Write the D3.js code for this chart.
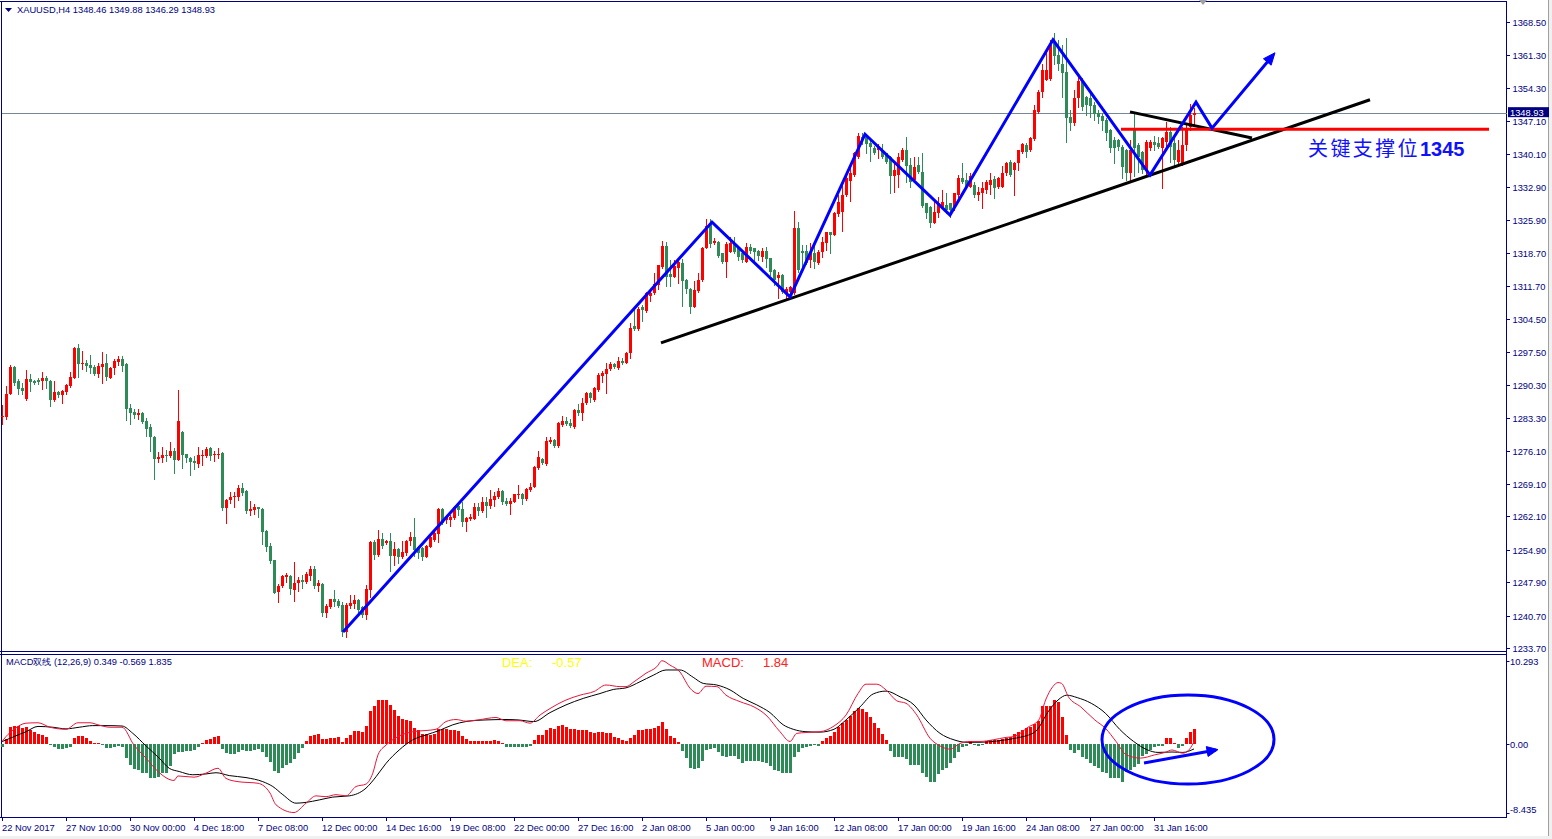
<!DOCTYPE html>
<html><head><meta charset="utf-8">
<script src="https://cdn.jsdelivr.net/npm/d3@7"></script>
<style>
html,body{margin:0;padding:0;background:#fff;overflow:hidden}
svg{display:block}
text{font-family:"Liberation Sans",Arial,sans-serif}
</style></head>
<body><svg id="chart" width="1552" height="839"></svg>
<script>
// ---------------- DATA ----------------
const symbolTitle = "XAUUSD,H4  1348.46 1349.88 1346.29 1348.93";
const openP = [1283.4,1283.4,1288.4,1294.3,1291.1,1289.6,1287.3,1291.6,1291.3,1291.4,1291.1,1291.8,1291.3,1287.1,1288.8,1288.2,1288.9,1290.1,1291.9,1298.2,1294.9,1295.1,1294.7,1294.3,1292.7,1294.3,1295.0,1291.9,1293.9,1295.3,1296.0,1294.8,1285.4,1284.6,1283.9,1284.4,1282.7,1281.4,1279.2,1274.5,1274.6,1275.3,1275.1,1276.1,1274.2,1280.3,1275.5,1274.7,1274.1,1273.4,1275.1,1275.1,1276.7,1275.2,1275.5,1275.8,1263.8,1265.6,1266.2,1266.3,1268.1,1267.5,1263.3,1263.4,1264.0,1263.7,1259.0,1255.7,1252.7,1245.9,1247.0,1249.1,1249.2,1246.2,1247.8,1248.5,1248.0,1249.2,1250.8,1247.2,1247.5,1241.4,1242.6,1244.3,1243.9,1243.0,1237.1,1242.9,1243.2,1244.1,1242.6,1240.9,1246.2,1256.6,1253.8,1257.3,1256.3,1256.85,1253.6,1255.0,1253.4,1254.3,1256.7,1257.7,1255.6,1255.2,1253.4,1255.6,1257.1,1258.3,1263.6,1261.3,1261.3,1261.7,1264.3,1263.6,1260.9,1261.45,1261.6,1264.2,1263.25,1265.1,1264.3,1265.6,1266.3,1267.5,1265.45,1264.7,1265.25,1266.7,1266.9,1265.75,1267.75,1268.4,1272.4,1274.35,1273.3,1278.15,1278.5,1277.2,1281.7,1282.7,1282.25,1281.4,1284.95,1284.4,1286.4,1288.7,1287.1,1289.3,1292.35,1292.7,1293.7,1294.85,1293.9,1295.6,1295.15,1297.2,1303.0,1302.3,1307.05,1306.3,1309.5,1310.1,1311.85,1315.8,1320.25,1314.2,1313.5,1315.6,1316.5,1312.9,1311.1,1307.2,1310.65,1312.9,1319.9,1325.1,1320.8,1321.2,1318.7,1316.9,1319.0,1320.8,1320.1,1318.7,1316.9,1320.1,1319.75,1319.25,1317.8,1319.25,1317.6,1315.1,1313.3,1314.0,1310.1,1310.4,1310.1,1324.05,1319.25,1319.25,1317.2,1318.8,1316.5,1319.0,1320.8,1323.2,1322.6,1327.1,1327.6,1331.2,1334.3,1335.5,1339.5,1343.8,1343.8,1342.3,1341.25,1340.9,1340.9,1340.2,1339.5,1335.2,1335.5,1338.75,1340.9,1337.7,1334.45,1337.7,1336.2,1329.4,1328.7,1325.3,1327.4,1328.55,1329.1,1329.4,1328.35,1331.2,1334.8,1334.45,1333.0,1333.4,1331.2,1331.6,1332.3,1333.4,1334.6,1333.0,1333.0,1335.9,1338.4,1336.6,1338.0,1340.55,1342.0,1340.9,1343.2,1349.15,1353.45,1355.95,1356.1,1363.85,1361.3,1359.5,1357.75,1348.1,1346.6,1352.0,1355.6,1352.4,1352.0,1350.6,1348.8,1348.2,1347.35,1345.2,1343.05,1343.05,1341.6,1340.9,1335.9,1345.2,1341.95,1340.55,1336.6,1341.25,1342.7,1342.5,1341.25,1342.7,1344.85,1342.35,1338.4,1338.0,1342.0,1345.9,1348.46];
const highP = [1286.0,1290.1,1294.7,1294.4,1291.6,1290.7,1293.6,1292.7,1291.4,1291.8,1293.1,1292.3,1291.4,1291.2,1289.0,1289.3,1290.6,1293.1,1298.6,1299.2,1297.6,1295.7,1296.8,1294.6,1295.0,1297.4,1297.0,1294.3,1295.9,1296.6,1296.6,1295.0,1286.3,1285.1,1285.2,1284.5,1283.2,1281.9,1279.4,1275.9,1276.9,1276.4,1278.1,1276.7,1289.3,1280.4,1275.6,1274.9,1275.1,1277.1,1276.4,1277.1,1277.1,1276.1,1276.7,1276.0,1265.8,1267.4,1267.4,1268.8,1269.3,1267.7,1265.4,1264.7,1264.2,1263.8,1259.1,1256.3,1252.8,1247.5,1249.5,1249.8,1249.5,1252.3,1249.1,1249.5,1250.2,1251.4,1251.3,1248.4,1247.7,1243.2,1244.4,1246.2,1244.3,1243.6,1243.4,1245.1,1245.2,1244.2,1242.8,1247.3,1256.85,1257.0,1259.1,1258.4,1257.1,1258.4,1256.5,1255.2,1256.7,1257.0,1258.8,1261.8,1255.7,1255.4,1255.9,1257.9,1259.15,1263.8,1263.95,1262.4,1262.4,1264.3,1264.9,1265.25,1262.0,1262.6,1265.0,1264.9,1266.3,1266.3,1267.75,1267.4,1268.25,1267.75,1265.95,1265.95,1267.0,1268.85,1267.2,1268.1,1269.2,1273.0,1276.2,1274.7,1279.25,1279.25,1278.65,1282.3,1283.7,1283.4,1282.95,1285.1,1286.25,1287.5,1288.9,1288.9,1290.0,1292.85,1293.4,1295.15,1295.2,1295.0,1296.4,1296.2,1297.5,1303.6,1306.6,1307.2,1307.55,1310.4,1311.1,1314.5,1316.2,1321.4,1321.2,1317.2,1317.2,1317.2,1317.4,1313.1,1311.3,1312.8,1314.5,1320.1,1326.0,1326.1,1321.9,1321.4,1318.8,1321.0,1322.1,1322.1,1320.25,1318.8,1320.8,1320.7,1319.9,1319.4,1319.75,1320.1,1317.7,1315.2,1314.7,1314.15,1311.5,1311.65,1327.85,1325.5,1320.4,1320.4,1320.8,1320.25,1319.4,1322.25,1323.3,1323.3,1327.6,1331.2,1333.7,1335.2,1338.2,1340.5,1344.6,1344.5,1344.1,1343.2,1341.8,1342.2,1342.2,1340.3,1339.6,1338.0,1340.2,1341.25,1343.8,1339.1,1339.5,1339.5,1340.2,1329.6,1328.85,1329.8,1330.85,1332.4,1331.6,1329.6,1331.7,1335.5,1338.0,1335.9,1335.9,1334.1,1333.0,1334.1,1334.45,1335.9,1335.2,1335.0,1337.45,1338.4,1338.75,1338.4,1340.9,1342.5,1342.35,1343.75,1350.6,1353.8,1359.5,1362.05,1364.6,1366.0,1364.6,1363.5,1364.9,1349.5,1353.8,1356.7,1356.3,1352.5,1353.1,1351.3,1349.5,1348.8,1347.7,1345.35,1343.75,1343.2,1341.95,1341.05,1343.05,1349.15,1342.35,1340.7,1343.05,1343.05,1343.9,1343.75,1343.75,1347.0,1345.9,1343.4,1343.05,1345.9,1346.3,1350.9,1349.88];
const lowP = [1282.0,1283.1,1288.4,1290.3,1288.5,1288.4,1287.1,1289.0,1290.6,1290.5,1289.5,1289.6,1285.8,1286.9,1287.7,1286.5,1288.5,1290.0,1291.9,1292.1,1293.7,1293.4,1293.0,1292.5,1292.1,1290.7,1291.4,1291.9,1292.8,1294.6,1293.4,1282.8,1282.0,1283.2,1283.0,1282.1,1279.4,1276.2,1270.1,1273.7,1273.8,1274.1,1274.9,1271.5,1274.2,1272.4,1273.8,1271.0,1272.2,1272.8,1273.1,1274.9,1274.2,1274.1,1274.6,1263.4,1260.7,1265.0,1264.0,1265.7,1266.7,1262.7,1262.4,1262.6,1261.9,1256.1,1254.6,1252.1,1245.5,1243.7,1246.8,1248.0,1245.3,1243.9,1246.1,1246.6,1247.7,1248.4,1246.7,1246.0,1240.6,1240.5,1242.4,1242.9,1242.6,1236.3,1236.2,1242.3,1242.4,1240.9,1240.5,1239.9,1244.8,1253.0,1253.5,1255.2,1256.1,1250.3,1251.6,1252.0,1253.1,1253.8,1255.9,1253.6,1253.1,1252.6,1253.3,1255.4,1256.8,1256.6,1260.4,1260.6,1260.0,1261.45,1262.4,1260.0,1258.9,1261.3,1261.45,1262.4,1263.1,1262.0,1263.8,1264.4,1265.95,1264.7,1264.5,1262.6,1265.1,1265.95,1264.7,1265.6,1267.55,1268.4,1272.3,1273.35,1273.1,1277.8,1276.9,1277.1,1281.6,1281.7,1281.4,1281.0,1283.9,1282.8,1286.25,1286.6,1287.0,1289.1,1291.05,1288.7,1293.55,1293.9,1293.8,1294.85,1295.0,1296.2,1302.2,1302.2,1304.2,1306.1,1308.5,1309.9,1311.1,1315.45,1311.65,1311.65,1313.5,1312.2,1307.4,1310.1,1305.8,1307.05,1310.4,1312.8,1319.75,1320.1,1320.7,1317.95,1316.5,1313.65,1318.9,1318.7,1317.2,1316.9,1316.75,1318.7,1317.2,1317.2,1317.1,1315.8,1314.0,1311.85,1309.0,1310.1,1309.0,1309.35,1309.9,1314.7,1315.45,1316.4,1315.8,1315.45,1316.4,1317.8,1319.4,1318.7,1322.6,1326.6,1323.5,1331.0,1330.0,1335.2,1339.1,1342.2,1340.2,1338.6,1340.05,1339.1,1339.1,1338.0,1331.7,1331.9,1333.0,1338.6,1334.1,1333.0,1334.1,1335.9,1328.7,1326.2,1324.4,1325.1,1326.55,1328.35,1327.4,1326.55,1328.0,1330.85,1333.7,1332.65,1332.9,1330.85,1330.15,1328.35,1331.6,1331.4,1330.5,1332.65,1333.0,1335.5,1335.2,1331.2,1336.6,1340.2,1339.5,1340.75,1343.05,1348.9,1352.4,1355.95,1355.95,1359.5,1358.1,1352.4,1342.7,1345.2,1346.3,1350.2,1349.5,1348.4,1347.9,1347.35,1346.8,1345.2,1343.05,1340.55,1338.0,1340.9,1334.8,1334.45,1334.1,1335.2,1336.2,1335.9,1335.2,1340.9,1340.9,1341.25,1332.65,1341.25,1338.4,1337.3,1338.2,1337.7,1340.9,1345.2,1346.29];
const closeP = [1283.7,1288.5,1294.3,1290.8,1289.4,1289.0,1291.6,1291.0,1290.7,1290.9,1291.8,1291.1,1287.1,1288.9,1288.2,1289.0,1290.3,1292.0,1298.4,1294.9,1295.1,1294.5,1294.1,1292.7,1294.4,1294.9,1292.1,1294.1,1295.5,1296.0,1294.5,1285.2,1284.4,1283.9,1284.4,1282.4,1280.9,1279.1,1274.5,1274.9,1275.3,1275.1,1276.1,1274.2,1282.5,1275.3,1274.6,1273.8,1273.5,1275.3,1275.3,1276.6,1275.1,1275.5,1275.6,1263.8,1265.7,1266.3,1266.5,1268.1,1267.2,1263.2,1263.7,1264.2,1263.7,1258.8,1255.6,1252.5,1245.7,1247.2,1249.3,1249.4,1246.4,1247.8,1248.5,1248.0,1249.6,1250.7,1247.2,1247.7,1241.4,1242.9,1244.4,1243.6,1242.9,1237.1,1243.0,1243.5,1244.1,1241.9,1240.9,1246.4,1256.6,1253.8,1257.3,1255.7,1256.85,1253.6,1255.0,1253.4,1254.5,1256.7,1257.7,1254.9,1254.3,1253.4,1255.7,1257.6,1258.4,1263.6,1260.6,1261.9,1261.9,1264.0,1263.45,1260.9,1261.8,1261.9,1264.2,1263.25,1265.1,1264.3,1265.9,1266.5,1267.5,1265.25,1264.7,1265.45,1266.8,1266.9,1265.9,1267.9,1268.5,1272.8,1274.8,1273.5,1278.4,1278.5,1277.2,1282.1,1282.7,1281.95,1281.6,1284.95,1284.25,1286.5,1288.7,1287.5,1289.6,1292.5,1293.0,1293.7,1294.85,1294.15,1295.6,1295.15,1297.3,1302.7,1302.3,1306.7,1306.5,1310.2,1310.2,1312.1,1316.1,1320.25,1313.5,1313.65,1316.0,1316.7,1312.8,1311.1,1307.2,1310.8,1312.9,1319.9,1324.55,1320.7,1321.4,1318.1,1316.9,1320.7,1320.8,1319.0,1317.95,1317.2,1320.1,1319.25,1319.0,1318.0,1319.25,1317.45,1314.7,1312.9,1314.0,1310.4,1311.1,1311.5,1324.05,1315.1,1318.7,1316.5,1319.0,1316.7,1319.0,1321.0,1323.2,1322.6,1327.3,1329.8,1331.2,1334.8,1335.9,1340.2,1343.9,1343.2,1342.2,1341.6,1340.3,1341.8,1339.5,1338.4,1335.2,1336.6,1339.5,1341.0,1337.45,1334.1,1337.3,1336.2,1328.85,1327.4,1325.3,1327.6,1329.4,1329.8,1328.0,1328.0,1331.6,1334.8,1334.1,1333.0,1335.2,1331.2,1331.9,1332.65,1334.1,1334.45,1332.65,1334.8,1336.0,1338.0,1335.5,1338.2,1340.9,1342.2,1340.55,1343.4,1349.5,1353.45,1358.1,1358.1,1363.5,1361.1,1359.5,1357.5,1347.7,1346.6,1352.0,1355.8,1350.2,1350.6,1350.35,1348.6,1348.1,1347.2,1344.5,1341.25,1341.25,1341.6,1337.3,1335.9,1340.9,1341.25,1339.45,1336.6,1342.7,1342.7,1341.95,1341.5,1343.4,1344.85,1341.6,1338.75,1340.9,1342.0,1345.2,1348.46,1348.93];
const currentPrice = 1348.93;

const priceTicks = ["1368.50","1361.30","1354.30","1347.10","1340.10","1332.90","1325.90","1318.70","1311.70","1304.50","1297.50","1290.30","1283.30","1276.10","1269.10","1262.10","1254.90","1247.90","1240.70","1233.70"];
const macdTicks = ["10.293","0.00","-8.435"];

const timeTickIndex = [0,16,32,48,64,80,96,112,128,144,160,176,192,208,224,240,256,272,288];
const timeTickLabels = ["22 Nov 2017","27 Nov 10:00","30 Nov 00:00","4 Dec 18:00","7 Dec 08:00","12 Dec 00:00","14 Dec 16:00","19 Dec 08:00","22 Dec 00:00","27 Dec 16:00","2 Jan 08:00","5 Jan 00:00","9 Jan 16:00","12 Jan 08:00","17 Jan 00:00","19 Jan 16:00","24 Jan 08:00","27 Jan 00:00","31 Jan 16:00"];

// MACD histogram, one value per bar
const macdHist = [-0.35,0.65,2.1,2.25,2.2,2.0,2.1,1.75,1.55,1.25,1.15,0.95,-0.1,-0.3,-0.6,-0.6,-0.5,-0.35,0.8,1.0,1.0,0.75,0.45,0.1,0.1,-0.1,-0.4,-0.5,-0.3,-0.2,-0.3,-1.7,-2.55,-3.1,-3.15,-3.5,-3.55,-4.2,-4.2,-4.05,-3.55,-3.5,-2.65,-1.2,-1.0,-0.95,-0.8,-0.8,-0.7,-0.3,0.1,0.55,0.7,0.85,1.0,-0.6,-1.1,-1.2,-1.25,-0.9,-0.7,-0.8,-0.8,-0.7,-0.6,-0.9,-1.6,-2.15,-3.3,-3.5,-2.95,-2.55,-2.25,-1.85,-1.1,-0.4,0.35,1.0,1.15,1.25,0.6,0.65,0.75,0.8,0.85,0.25,0.75,1.15,1.65,1.65,1.55,2.25,4.1,4.75,5.45,5.45,5.45,4.85,4.2,3.5,3.1,3.0,2.9,2.0,1.7,1.25,1.25,1.15,1.25,1.85,1.85,1.85,1.7,1.7,1.65,1.0,0.6,0.45,0.45,0.45,0.45,0.45,0.45,0.55,0.35,0.1,-0.3,-0.3,-0.3,-0.3,-0.35,-0.3,-0.2,0.55,1.15,1.15,1.75,2.0,1.9,2.25,2.4,2.1,1.9,1.85,1.7,1.7,1.7,1.55,1.35,1.5,1.55,1.45,1.35,0.95,0.8,0.55,0.4,0.8,1.15,1.7,1.75,1.9,1.9,2.0,2.25,2.8,1.85,1.0,0.75,0.25,-0.8,-1.7,-2.95,-3.1,-2.95,-2.0,-0.7,-0.55,-0.5,-1.0,-1.5,-1.6,-1.5,-1.5,-1.8,-2.25,-2.0,-2.0,-2.0,-2.0,-2.15,-2.25,-2.65,-3.15,-3.25,-3.55,-3.55,-3.5,-1.6,-0.9,-0.5,-0.3,-0.2,-0.1,-0.2,0.45,0.8,1.0,1.55,2.1,2.65,3.0,3.5,4.1,4.5,4.3,4.0,3.4,2.65,2.0,1.25,0.55,-0.8,-1.6,-1.6,-1.6,-1.8,-2.55,-2.5,-2.55,-3.5,-4.05,-4.7,-4.6,-3.65,-3.15,-2.95,-2.35,-1.7,-1.0,-0.35,-0.2,0.35,-0.1,-0.2,-0.1,0.35,0.55,0.55,0.55,0.6,0.75,0.95,1.25,1.55,1.75,2.0,2.1,2.5,2.9,4.75,4.75,4.75,5.45,5.15,3.4,1.15,-0.7,-1.1,-0.7,-1.6,-1.85,-2.35,-2.65,-2.95,-3.35,-3.5,-4.1,-4.1,-4.1,-4.7,-3.35,-3.15,-2.75,-2.4,-1.5,-1.2,-0.7,-0.35,-0.2,-0.2,0.75,0.75,0.2,-0.5,-0.2,0.75,1.5,1.835];

// DIF (red) and DEA (black) lines: [bar index, value]
const difLine = [[0,0.33],[1,0.95],[3,1.85],[6,2.6],[9,2.65],[12,2.1],[16,1.85],[19,2.65],[22,2.65],[24,2.4],[27,2.1],[30,2.1],[33,-0.1],[36,-1.7],[39,-3.35],[43,-4.45],[44,-3.9],[48,-4.05],[51,-3.55],[54,-2.95],[56,-4.2],[59,-4.6],[64,-4.8],[67,-6.0],[68.5,-7.45],[73,-8.4],[76,-7.25],[78.5,-6.35],[81,-6.45],[83.5,-6.2],[86,-6.35],[88.5,-5.2],[91,-4.9],[92.7,-3.55],[94,-1.3],[96,-0.1],[99,0.95],[102.7,1.55],[106,1.7],[108.5,1.85],[111,2.8],[113.5,3.05],[116,2.85],[119,3.0],[123.5,3.3],[126,2.9],[129.5,2.9],[132,2.6],[134.5,3.6],[137,4.4],[141,5.45],[144.5,6.05],[148,6.5],[151,7.3],[154.5,7.1],[156,7.1],[158,7.7],[161,8.75],[163.7,9.55],[165,10.29],[167,9.75],[169.5,8.9],[172,6.9],[174,6.25],[176,7.15],[178.7,7.1],[181,6.05],[184.5,5.25],[188,4.6],[191,3.6],[194.5,1.55],[197,0.35],[198.7,1.35],[201,1.45],[204.5,1.55],[208,2.25],[211,3.6],[214,6.25],[216,7.4],[218.7,7.4],[221,6.7],[223.7,5.35],[226,5.05],[228.7,3.6],[232,0.75],[234.5,-0.2],[237,-0.6],[239.5,0.1],[242,0.35],[244.5,0.35],[247.8,0.55],[251,0.85],[253,0.95],[256.5,2.1],[259.2,3.0],[260.9,5.45],[262.7,7.1],[264,7.6],[264.9,7.5],[266.6,5.85],[269.7,4.6],[273.2,3.0],[275.9,1.95],[278.5,0.35],[281.1,-1.3],[284.6,-1.7],[288.2,-1.3],[290.8,-1.0],[292.5,-0.7],[295.2,-1.1],[296.9,-0.6],[298,0.349]];
const deaLine = [[0,0.33],[3,0.95],[6,1.55],[9,2.2],[12.7,2.1],[16,1.9],[19.3,2.1],[22.7,2.3],[26,2.3],[30,2.25],[32.7,1.35],[36,-0.2],[39.3,-1.7],[41.8,-2.95],[44.3,-3.35],[47.7,-3.75],[51,-3.65],[53.5,-3.5],[56.8,-3.85],[61,-4.1],[65.2,-4.6],[67.7,-5.2],[70.2,-6.2],[73.5,-7.25],[76,-7.15],[79.3,-6.85],[82.7,-6.5],[86.8,-6.35],[91,-5.4],[93.5,-4.0],[96,-2.35],[99.3,-0.7],[102.7,0.55],[106,1.15],[109.3,1.7],[112.7,2.4],[116,2.8],[121,3.0],[126,3.05],[129,3.0],[133,2.8],[137,3.9],[141,4.85],[145.3,5.65],[149.5,6.25],[152.8,6.75],[156,6.95],[159.5,7.7],[162.8,8.5],[166,9.15],[169.5,9.15],[172.8,8.25],[175.3,7.5],[178.7,7.3],[182,6.7],[185.3,5.65],[188.7,4.85],[192,3.9],[195.3,2.4],[197.8,1.85],[201,1.55],[204.5,1.5],[208,1.85],[211,3.0],[214.5,4.6],[217.8,6.2],[221,6.55],[224.5,5.85],[228,4.85],[231,3.0],[234.5,1.35],[238,0.55],[241,0.25],[244.5,0.25],[247.8,0.35],[251,0.55],[253.9,0.8],[258.3,1.55],[261.8,4.2],[264,5.45],[266.2,6.05],[268.8,5.75],[272.3,5.05],[275.9,3.8],[279.4,1.85],[282.9,0.35],[286.4,-0.7],[289,-1.0],[292.5,-0.95],[295.2,-1.0],[298,-0.569]];
const macdHeader = "MACD双线 (12,26,9) 0.349 -0.569 1.835";
const deaText = ["DEA:", "-0.57"];
const macdText = ["MACD:", "1.84"];

// Hand-drawn annotations: [bar index, price]
const zigzag = [[85.25,1237.2],[177.5,1325.4],[197,1309.3],[215.75,1344.3],[237,1326.9],[262.75,1364.6],[287,1335.5],[298.5,1351.2],[302.5,1345.6],[317.75,1361.3]];
const trendLong = [[164.75,1299.4],[342,1351.7]];
const trendShort = [[282,1349.1],[312.5,1343.5]];
const supportLine = [[279.75,1345.35],[371.75,1345.35]];
const supportLabel = ["关键支撑位", "1345"];
const supportLabelAt = [326.5, 1339.6];
// MACD annotations: [bar index, macd value]
const macdEllipseBox = [[275,6.07],[318,-4.89]];
const macdArrow = [[285.5,-2.3],[303.5,-0.7]];

// ---------------- SCALES ----------------
const N = closeP.length;
const svg = d3.select("#chart");
const x = d3.scaleLinear().domain([0, N - 1]).range([2, 2 + 4 * (N - 1)]);
const y = d3.scaleLinear().domain([1233.7, 1368.5]).range([648.3, 21.7]);
const ym = d3.scaleLinear().domain([-8.435, 10.293]).range([812.8, 660.7]);

const NAVY = "#000080", UP = "#ff0000", DOWN = "#2e8b57", BLUE = "#0000ff";
const AXIS_X = 1506.5;

// ---------------- FRAME ----------------
svg.append("rect").attr("x",0).attr("y",0).attr("width",1552).attr("height",839).attr("fill","#fff");
svg.append("rect").attr("x",1548).attr("y",0).attr("width",4).attr("height",839).attr("fill","#f0f0f0");
svg.append("line").attr("x1",1548.5).attr("x2",1548.5).attr("y1",0).attr("y2",839).attr("stroke","#a0a0a0");
svg.append("rect").attr("x",0).attr("y",836).attr("width",1552).attr("height",3).attr("fill","#f0f0f0");

const frame = svg.append("g").attr("stroke", NAVY).attr("fill","none").attr("shape-rendering","crispEdges");
frame.append("line").attr("x1",0).attr("x2",AXIS_X).attr("y1",1.5).attr("y2",1.5);
frame.append("line").attr("x1",1.5).attr("x2",1.5).attr("y1",1).attr("y2",817);
frame.append("line").attr("x1",0).attr("x2",AXIS_X).attr("y1",651.5).attr("y2",651.5);
frame.append("line").attr("x1",0).attr("x2",AXIS_X).attr("y1",654.5).attr("y2",654.5);
frame.append("line").attr("x1",0).attr("x2",AXIS_X).attr("y1",817.5).attr("y2",817.5);
frame.append("line").attr("x1",AXIS_X).attr("x2",AXIS_X).attr("y1",1).attr("y2",818);

// shift marker
svg.append("path").attr("d","M1199,0 L1207,0 L1203,5 Z").attr("fill","#a0a0a0");

// current price line
svg.append("line").attr("x1",2).attr("x2",AXIS_X).attr("y1",Math.round(y(currentPrice))+0.5).attr("y2",Math.round(y(currentPrice))+0.5)
  .attr("stroke","#778899").attr("shape-rendering","crispEdges");

// ---------------- CANDLES ----------------
const candles = d3.range(N).map(i => ({i, o:openP[i], h:highP[i], l:lowP[i], c:closeP[i]}));
const cg = svg.append("g").attr("shape-rendering","crispEdges");
const cs = cg.selectAll("g").data(candles).join("g");
cs.append("line")
  .attr("x1", d => Math.round(x(d.i)) + 0.5).attr("x2", d => Math.round(x(d.i)) + 0.5)
  .attr("y1", d => Math.round(y(d.h))).attr("y2", d => Math.round(y(d.l)) + 1)
  .attr("stroke", d => d.c >= d.o ? UP : DOWN);
cs.append("rect")
  .attr("x", d => Math.round(x(d.i)) - 1).attr("width", 3)
  .attr("y", d => Math.round(y(Math.max(d.o, d.c))))
  .attr("height", d => Math.max(1, Math.round(y(Math.min(d.o, d.c))) - Math.round(y(Math.max(d.o, d.c)))))
  .attr("fill", d => d.c >= d.o ? UP : DOWN);

// ---------------- ANNOTATIONS (main) ----------------
const lineP = d3.line().x(d => x(d[0])).y(d => y(d[1]));
function arrowHead(g, p0, p1, color, len, half) {
  const dx = p1[0]-p0[0], dy = p1[1]-p0[1], L = Math.hypot(dx,dy);
  const ux = dx/L, uy = dy/L;
  const bx = p1[0]-ux*len, by = p1[1]-uy*len;
  g.append("path").attr("d", `M${p1[0]},${p1[1]} L${bx-uy*half},${by+ux*half} L${bx+uy*half},${by-ux*half} Z`)
    .attr("fill", color).attr("stroke", color).attr("stroke-width",1);
}
const ag = svg.append("g");
ag.append("path").attr("d", lineP(trendLong)).attr("stroke","#000").attr("stroke-width",3).attr("fill","none");
ag.append("path").attr("d", lineP(trendShort)).attr("stroke","#000").attr("stroke-width",3).attr("fill","none");
ag.append("path").attr("d", lineP(supportLine)).attr("stroke","#ff0000").attr("stroke-width",3).attr("fill","none");
ag.append("path").attr("d", lineP(zigzag)).attr("stroke",BLUE).attr("stroke-width",3).attr("fill","none").attr("stroke-linejoin","miter");
{
  const a = zigzag[zigzag.length-2], b = zigzag[zigzag.length-1];
  arrowHead(ag, [x(a[0]),y(a[1])], [x(b[0])+2,y(b[1])-2.4], BLUE, 12, 5);
}
const lbl = ag.append("text").attr("x", x(supportLabelAt[0])).attr("y", y(supportLabelAt[1]))
  .attr("fill","#1010ff").attr("font-size",20);
lbl.append("tspan").text(supportLabel[0]).attr("font-family",'"Noto Sans CJK SC",sans-serif').attr("letter-spacing","2.4px");
lbl.append("tspan").text(supportLabel[1]).attr("font-family",'"Liberation Sans",Arial,sans-serif').attr("font-weight","bold");

// ---------------- PRICE AXIS ----------------
const pa = svg.append("g").attr("font-size","9.3px").attr("fill",NAVY);
priceTicks.forEach(t => {
  const yy = Math.round(y(+t)) + 0.5;
  pa.append("line").attr("x1",AXIS_X).attr("x2",AXIS_X+3).attr("y1",yy).attr("y2",yy).attr("stroke",NAVY).attr("shape-rendering","crispEdges");
  pa.append("text").attr("x",1512.5).attr("y",yy+3.3).text(t);
});
// current price box
{
  const yy = y(currentPrice);
  svg.append("rect").attr("x",1508).attr("y",yy-5.5).attr("width",41).attr("height",10).attr("fill",NAVY);
  svg.append("text").attr("x",1510).attr("y",yy+3.5).attr("fill","#fff").attr("font-size","9.3px").text(currentPrice.toFixed(2));
}

// ---------------- MACD ----------------
const mg = svg.append("g").attr("shape-rendering","crispEdges");
mg.selectAll("rect").data(macdHist.map((v,i)=>({i,v}))).join("rect")
  .attr("x", d => Math.round(x(d.i)) - 1).attr("width", 3)
  .attr("y", d => d.v >= 0 ? Math.round(ym(d.v)) : Math.round(ym(0)))
  .attr("height", d => Math.max(1, Math.abs(Math.round(ym(d.v)) - Math.round(ym(0)))))
  .attr("fill", d => d.v >= 0 ? UP : DOWN);

const lineM = d3.line().x(d => x(d[0])).y(d => ym(d[1])).curve(d3.curveMonotoneX);
svg.append("path").attr("d", lineM(deaLine)).attr("stroke","#000").attr("stroke-width",1).attr("fill","none");
svg.append("path").attr("d", lineM(difLine)).attr("stroke","#e8173c").attr("stroke-width",1).attr("fill","none");

// MACD annotations
{
  const x0 = x(macdEllipseBox[0][0]), x1 = x(macdEllipseBox[1][0]);
  const y0 = ym(macdEllipseBox[0][1]), y1 = ym(macdEllipseBox[1][1]);
  svg.append("ellipse").attr("cx",(x0+x1)/2).attr("cy",(y0+y1)/2).attr("rx",(x1-x0)/2).attr("ry",(y1-y0)/2)
    .attr("stroke",BLUE).attr("stroke-width",3).attr("fill","none");
  const p0 = [x(macdArrow[0][0]), ym(macdArrow[0][1])], p1 = [x(macdArrow[1][0]), ym(macdArrow[1][1])];
  svg.append("path").attr("d",`M${p0[0]},${p0[1]} L${p1[0]},${p1[1]}`).attr("stroke",BLUE).attr("stroke-width",3);
  arrowHead(svg, p0, [p1[0]+2,p1[1]-0.4], BLUE, 11, 5);
}

// MACD axis labels
const ma = svg.append("g").attr("font-size","9.3px").attr("fill",NAVY);
macdTicks.forEach(t => {
  const yy = Math.min(810, Math.max(660, ym(+t) + 0.7));
  ma.append("line").attr("x1",AXIS_X).attr("x2",AXIS_X+3).attr("y1",Math.round(ym(+t))+0.5).attr("y2",Math.round(ym(+t))+0.5).attr("stroke",NAVY);
  ma.append("text").attr("x",1510).attr("y",yy+3.3).text(t);
});

// MACD header texts
svg.append("text").attr("x",6).attr("y",665).attr("font-size","9.3px").attr("fill",NAVY).text(macdHeader);
svg.append("text").attr("x",502).attr("y",666.5).attr("font-size","13px").attr("fill","#ffff00").text(deaText[0]);
svg.append("text").attr("x",552).attr("y",666.5).attr("font-size","13px").attr("fill","#ffff00").text(deaText[1]);
svg.append("text").attr("x",702).attr("y",666.5).attr("font-size","13px").attr("fill","#ff2020").text(macdText[0]);
svg.append("text").attr("x",763).attr("y",666.5).attr("font-size","13px").attr("fill","#ff2020").text(macdText[1]);

// ---------------- TIME AXIS ----------------
const ta = svg.append("g").attr("font-size","9.3px").attr("fill",NAVY);
timeTickIndex.forEach((ti, k) => {
  const xx = Math.round(x(ti)) + 0.5;
  ta.append("line").attr("x1",xx).attr("x2",xx).attr("y1",817).attr("y2",821).attr("stroke",NAVY).attr("shape-rendering","crispEdges");
  ta.append("text").attr("x",xx - 0.5).attr("y",830.5).text(timeTickLabels[k]);
});

// title
svg.append("path").attr("d","M5,8 L12,8 L8.5,12 Z").attr("fill",NAVY);
svg.append("text").attr("x",17).attr("y",13).attr("font-size","9.3px").attr("fill",NAVY).text(symbolTitle);
</script></body></html>
